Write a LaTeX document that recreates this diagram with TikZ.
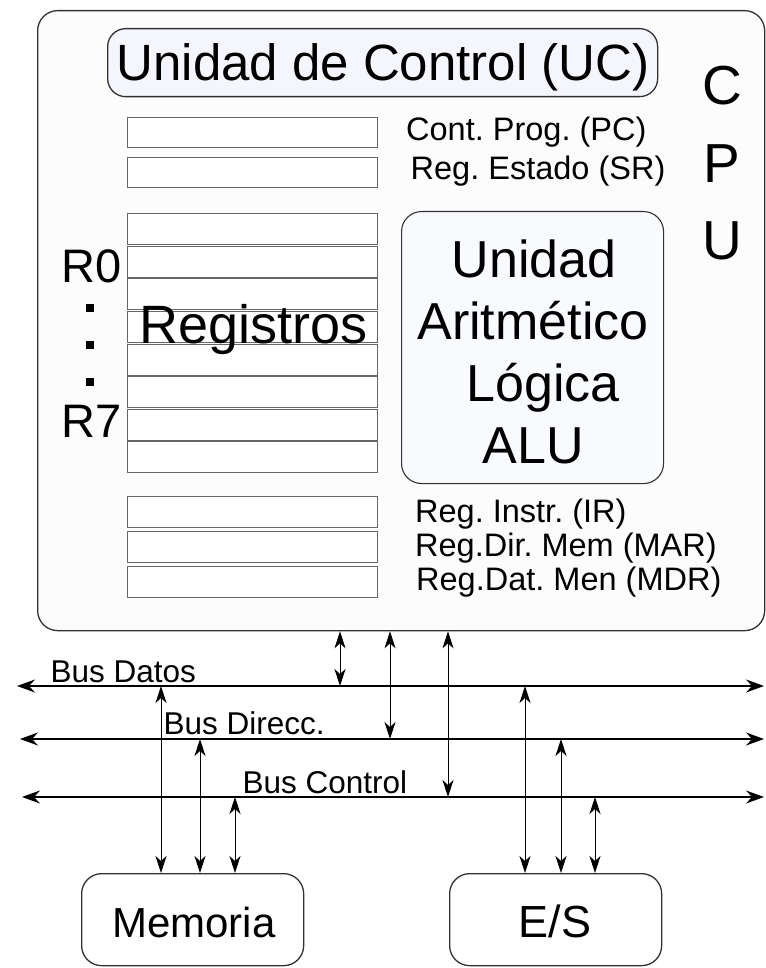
\documentclass[tikz,border=0pt]{standalone}
\usepackage{fontspec}
\setmainfont{Liberation Sans}
\usetikzlibrary{arrows.meta}
\definecolor{cpufill}{RGB}{252,252,252}
\definecolor{ucfill}{RGB}{245,245,253}
\definecolor{alufill}{RGB}{248,250,253}
\definecolor{edge}{RGB}{50,50,50}
\frenchspacing
\begin{document}
\begin{tikzpicture}[x=1pt,y=-1pt,
  rbox/.style={draw=edge, line width=1.3pt, rounded corners=20pt, inner sep=0pt, anchor=north west},
  regbox/.style={draw=black!60, line width=0.9pt, fill=white, minimum width=250pt, minimum height=31pt, inner sep=0pt, anchor=north west},
  big/.style={font=\fontsize{52}{62}\selectfont, inner sep=0pt, anchor=base},
  lbl/.style={font=\fontsize{32.5}{38}\selectfont, inner sep=0pt, anchor=base west},
  buslbl/.style={font=\fontsize{31.5}{38}\selectfont, inner sep=0pt, anchor=base west},
  dotsq/.style={fill=black, minimum size=8pt, inner sep=0pt},
  bus/.style={line width=1.3pt, {Stealth[length=18pt,width=13pt,inset=6pt]}-{Stealth[length=18pt,width=13pt,inset=6pt]}},
  link/.style={line width=0.9pt, {Stealth[length=17pt,width=11pt,inset=5pt]}-{Stealth[length=17pt,width=11pt,inset=5pt]}},
]
\useasboundingbox (0,0) rectangle (765,968);

% CPU
\node[rbox, fill=cpufill, minimum width=727pt, minimum height=620pt] (cpu) at (37,10) {};
\node[rbox, fill=ucfill, rounded corners=18pt, minimum width=550pt, minimum height=68pt] (uc) at (107,28) {};
\node[big, font=\fontsize{51}{60}\selectfont] (uctxt) at (383,81) {Unidad de Control (UC)};

\node[big, font=\fontsize{55}{60}\selectfont] (cC) at (722,105) {C};
\node[big, font=\fontsize{55}{60}\selectfont] (cP) at (722,183) {P};
\node[big, font=\fontsize{55}{60}\selectfont] (cU) at (722,259) {U};

% PC / SR
\node[regbox, minimum height=30pt] (pc) at (127,117) {};
\node[regbox, minimum height=30pt] (sr) at (127,157) {};
\node[lbl] (pclbl) at (406,141) {Cont. Prog. (PC)};
\node[lbl] (srlbl) at (410.5,180) {Reg. Estado (SR)};

% general registers
\foreach \i in {0,...,7}{
  \node[regbox] (r\i) at (127,{213+32.625*\i}) {};
}
\node[big, anchor=base east, font=\fontsize{47}{55}\selectfont] (r0lbl) at (122,282) {R0};
\node[big, anchor=base east, font=\fontsize{47}{55}\selectfont] (r7lbl) at (122,437) {R7};
\node[dotsq] (dot1) at (90,308) {};
\node[dotsq] (dot2) at (90,345) {};
\node[dotsq] (dot3) at (90,382) {};
\node[big, anchor=base west, font=\fontsize{54}{60}\selectfont] (regtxt) at (139,343) {Registros};

% ALU
\node[rbox, fill=alufill, line width=1.1pt, minimum width=262pt, minimum height=272pt] (alu) at (401,211) {};
\node[big] (alu1) at (534,277) {Unidad};
\node[big] (alu2) at (533,339) {Aritmético};
\node[big] (alu3) at (543,401) {Lógica};
\node[big] (alu4) at (533,463) {ALU};

% IR / MAR / MDR
\node[regbox] (ir) at (127,496) {};
\node[regbox] (mar) at (127,531) {};
\node[regbox] (mdr) at (127,566) {};
\node[lbl] (irlbl) at (415,522) {Reg. Instr. (IR)};
\node[lbl] (marlbl) at (415,556) {Reg.Dir. Mem (MAR)};
\node[lbl] (mdrlbl) at (416,590) {Reg.Dat. Men (MDR)};

% buses
\coordinate (dL) at (17,686);  \coordinate (dR) at (764,686);
\coordinate (aL) at (20,739);  \coordinate (aR) at (764,739);
\coordinate (cL) at (22,797);  \coordinate (cR) at (764,797);
\draw[bus] (dL) -- (dR);
\draw[bus] (aL) -- (aR);
\draw[bus] (cL) -- (cR);
\node[buslbl] (dlbl) at (50.5,682) {Bus Datos};
\node[buslbl] (albl) at (163.5,734) {Bus Direcc.};
\node[buslbl] (clbl) at (242.5,793) {Bus Control};

% memory and I/O
\node[rbox, minimum width=222pt, minimum height=92pt] (mem) at (81,873) {};
\node[font=\fontsize{42}{50}\selectfont, inner sep=0pt, anchor=base] (memtxt) at (194,937) {Memoria};
\node[rbox, minimum width=212pt, minimum height=92pt] (es) at (449,873) {};
\node[font=\fontsize{45}{50}\selectfont, inner sep=0pt, anchor=base] (estxt) at (555,937) {E/S};

% CPU to buses
\coordinate (k1) at (340,686);
\coordinate (k2) at (390,739);
\coordinate (k3) at (448,797);
\draw[link] (k1 |- cpu.south) -- (k1);
\draw[link] (k2 |- cpu.south) -- (k2);
\draw[link] (k3 |- cpu.south) -- (k3);

% buses to memory
\coordinate (m1) at (161,686);
\coordinate (m2) at (200,739);
\coordinate (m3) at (235,797);
\draw[link] (m1) -- (m1 |- mem.north);
\draw[link] (m2) -- (m2 |- mem.north);
\draw[link] (m3) -- (m3 |- mem.north);

% buses to E/S
\coordinate (e1) at (525,686);
\coordinate (e2) at (561,739);
\coordinate (e3) at (595,797);
\draw[link] (e1) -- (e1 |- es.north);
\draw[link] (e2) -- (e2 |- es.north);
\draw[link] (e3) -- (e3 |- es.north);
\end{tikzpicture}
\end{document}
